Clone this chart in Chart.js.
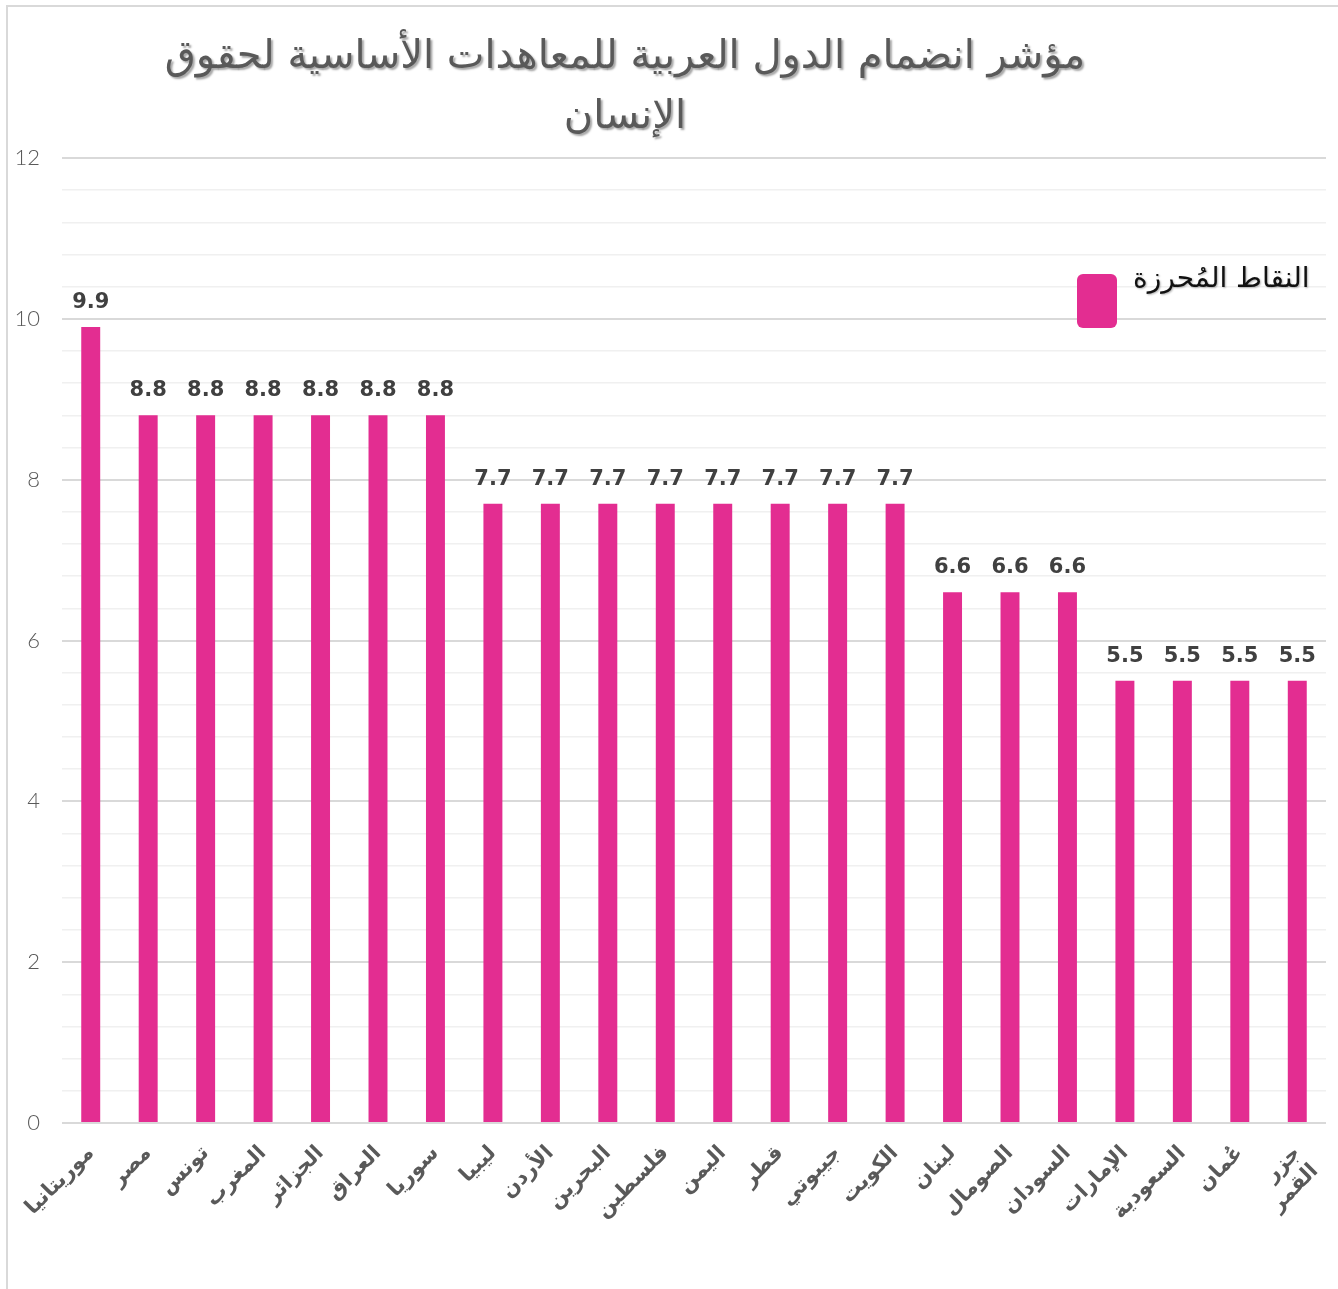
<!DOCTYPE html>
<html>
<head>
<meta charset="utf-8">
<script src="https://cdn.jsdelivr.net/npm/chart.js@4.4.1/dist/chart.umd.min.js"></script>
<style>
    html, body {margin: 0; padding: 0; background: #fff;}
    #wrap {position: relative; width: 1338px; height: 1289px;}
    #frame {position: absolute; left: 6px; top: 5px; right: 0; bottom: 0; border-left: 2px solid #d9d9d9; border-top: 2px solid #d9d9d9;}
    canvas {position: absolute; left: 0; top: 0;}
</style>
</head>
<body>
<div id="wrap">
    <div id="frame"></div>
    <canvas id="chart" width="1338" height="1289"></canvas>
</div>
<script>
// ═══════════════════ DATA ═══════════════════

const countries = ['موريتانيا', 'مصر', 'تونس', 'المغرب', 'الجزائر', 'العراق', 'سوريا', 'ليبيا', 'الأردن', 'البحرين', 'فلسطين',
    'اليمن', 'قطر', 'جيبوتي', 'الكويت', 'لبنان', 'الصومال', 'السودان', 'الإمارات', 'السعودية', 'عُمان', ['جزر', 'القمر']];
const scores = [9.9, 8.8, 8.8, 8.8, 8.8, 8.8, 8.8, 7.7, 7.7, 7.7, 7.7, 7.7, 7.7, 7.7, 7.7, 6.6, 6.6, 6.6, 5.5, 5.5, 5.5, 5.5];
const yTicks = [0, 2, 4, 6, 8, 10, 12];
const seriesName = 'النقاط المُحرزة';
const titleLines = ['مؤشر انضمام الدول العربية للمعاهدات الأساسية لحقوق', 'الإنسان'];

const PINK = '#e32d91';

// title drawn by hand so it can sit left of centre like the original
const titlePlugin = {
    id: 'arTitle',
    afterDraw(chart) {
        const c = chart.ctx;
        c.save();
        c.font = '40px "DejaVu Sans"';
        c.fillStyle = '#595959';
        c.textAlign = 'center';
        c.textBaseline = 'middle';
        c.shadowColor = 'rgba(0,0,0,0.35)';
        c.shadowOffsetX = 2;
        c.shadowOffsetY = 2;
        c.shadowBlur = 2;
        titleLines.forEach((t, i) => c.fillText(t, 625, 58 + i * 60));
        c.restore();
    }
};

const legendPlugin = {
    id: 'arLegend',
    afterDraw(chart) {
        const c = chart.ctx;
        const ds = chart.data.datasets[0];
        c.save();
        c.fillStyle = ds.backgroundColor;
        c.beginPath();
        c.roundRect(1077, 274, 40, 54, 6);
        c.fill();
        c.font = '28px "DejaVu Sans"';
        c.fillStyle = '#111';
        c.textAlign = 'left';
        c.textBaseline = 'middle';
        c.shadowColor = 'rgba(0,0,0,0.3)';
        c.shadowOffsetX = 1;
        c.shadowOffsetY = 1;
        c.shadowBlur = 2;
        c.fillText(ds.label, 1133, 280);
        c.restore();
    }
};

const valueLabels = {
    id: 'valueLabels',
    afterDatasetsDraw(chart) {
        const c = chart.ctx;
        const meta = chart.getDatasetMeta(0);
        c.save();
        c.font = 'bold 21px "DejaVu Sans"';
        c.fillStyle = '#404040';
        c.textAlign = 'center';
        c.textBaseline = 'bottom';
        meta.data.forEach((bar, i) => {
            c.fillText(scores[i].toFixed(1), bar.x, bar.y - 14);
        });
        c.restore();
    }
};

const isMajor = v => Math.abs(v / 2 - Math.round(v / 2)) < 1e-6;

new Chart(document.getElementById('chart'), {
    type: 'bar',
    data: {
        labels: countries,
        datasets: [{
            label: seriesName,
            data: scores,
            backgroundColor: PINK,
            barPercentage: 0.33,
            categoryPercentage: 1,
        }]
    },
    options: {
        responsive: false,
        animation: false,
        layout: {padding: {left: 0, right: 12, top: 158, bottom: 0}},
        plugins: {legend: {display: false}, title: {display: false}, tooltip: {enabled: false}},
        scales: {
            x: {
                grid: {display: false},
                border: {display: false},
                ticks: {
                    color: '#595959',
                    font: {family: '"DejaVu Sans"', size: 21, weight: 'bold'},
                    maxRotation: 45,
                    minRotation: 45,
                    autoSkip: false,
                    padding: 10,
                },
                afterFit: s => {
                    s.height = 166;
                    // keep the plot edges where the original has them
                    s.paddingLeft = 0;
                    s.paddingRight = 0;
                }
            },
            y: {
                min: 0,
                max: 12,
                border: {display: false},
                afterBuildTicks: s => {
                    // minor lines every 0.4 between the labelled ticks
                    const t = [];
                    for (let i = 0; i <= 30; i++) t.push({value: +(i * 0.4).toFixed(1)});
                    s.ticks = t;
                },
                grid: {
                    drawTicks: false,
                    color: ctx => isMajor(ctx.tick.value) ? '#d9d9d9' : '#f0f0f0',
                    lineWidth: ctx => isMajor(ctx.tick.value) ? 2 : 1.5,
                },
                ticks: {
                    color: '#595959',
                    font: {family: 'Lato', size: 22, weight: '300'},
                    padding: 22,
                    autoSkip: false,
                    callback: v => yTicks.includes(Math.round(v)) && isMajor(v) ? String(Math.round(v)) : ''
                },
                afterFit: s => { s.width = 62; }
            }
        }
    },
    plugins: [titlePlugin, legendPlugin, valueLabels]
});
</script>
</body>
</html>
